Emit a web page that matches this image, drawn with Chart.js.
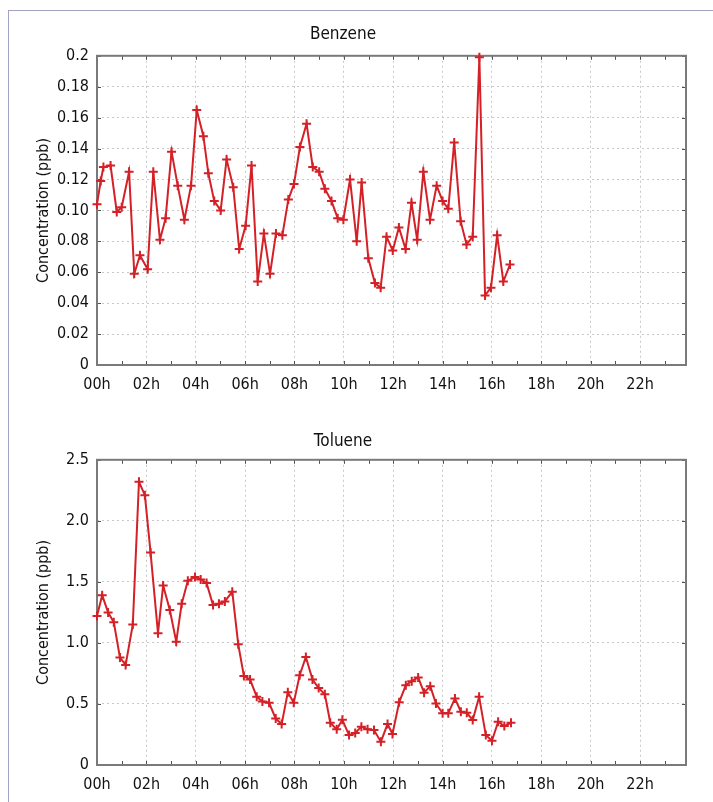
<!DOCTYPE html>
<html><head><meta charset="utf-8">
<script src="https://cdn.jsdelivr.net/npm/chart.js@4"></script>
<style>
html,body{margin:0;padding:0;background:#fff;}
#wrap{position:relative;width:713px;height:802px;overflow:hidden;background:#fff;}
#frame{position:absolute;left:8px;top:10px;width:720px;height:800px;border-left:1px solid #a2a2c4;border-top:1px solid #a2a2c4;}
.box{position:absolute;left:0;width:713px;}
</style></head><body>
<div id="wrap"><div id="frame"></div>
<div class="box" style="top:0;height:400px"><canvas id="c1" width="713" height="400"></canvas></div>
<div class="box" style="top:404px;height:398px"><canvas id="c2" width="713" height="398"></canvas></div>
</div>
<script>
const hourLabels = ['00h','02h','04h','06h','08h','10h','12h','14h','16h','18h','20h','22h'];

const benzeneTimes = [0.00,0.15,0.26,0.55,0.80,1.00,1.30,1.51,1.74,2.05,2.28,2.55,2.78,3.02,3.27,3.54,3.81,4.04,4.31,4.51,4.75,5.01,5.25,5.52,5.76,6.02,6.26,6.51,6.76,7.01,7.25,7.51,7.75,7.98,8.22,8.49,8.74,9.00,9.23,9.50,9.75,9.98,10.25,10.52,10.72,10.99,11.26,11.49,11.73,11.98,12.23,12.50,12.74,12.97,13.22,13.49,13.76,14.00,14.23,14.47,14.73,14.97,15.22,15.49,15.72,15.96,16.21,16.46,16.73];
const benzeneValues = [0.104,0.119,0.128,0.129,0.099,0.102,0.125,0.059,0.071,0.062,0.125,0.081,0.095,0.138,0.116,0.094,0.116,0.165,0.148,0.124,0.106,0.100,0.133,0.115,0.075,0.090,0.129,0.054,0.085,0.059,0.085,0.084,0.107,0.117,0.141,0.156,0.128,0.125,0.114,0.106,0.095,0.094,0.120,0.080,0.118,0.069,0.053,0.050,0.083,0.074,0.089,0.075,0.105,0.081,0.125,0.094,0.116,0.106,0.101,0.144,0.093,0.078,0.083,0.199,0.045,0.050,0.084,0.054,0.065];
const benzeneTickLabels = ['0','0.02','0.04','0.06','0.08','0.10','0.12','0.14','0.16','0.18','0.2'];

const tolueneTimes = [0.00,0.21,0.45,0.68,0.93,1.16,1.45,1.70,1.94,2.17,2.47,2.68,2.95,3.21,3.43,3.68,3.97,4.20,4.44,4.70,4.94,5.18,5.48,5.72,5.95,6.20,6.47,6.70,6.97,7.24,7.48,7.73,7.97,8.21,8.46,8.73,8.98,9.23,9.45,9.71,9.94,10.21,10.46,10.71,10.96,11.22,11.50,11.77,11.97,12.24,12.51,12.75,13.01,13.25,13.50,13.73,14.00,14.23,14.50,14.74,14.98,15.22,15.48,15.75,16.00,16.25,16.50,16.77];
const tolueneValues = [1.22,1.39,1.25,1.17,0.88,0.82,1.15,2.32,2.21,1.74,1.08,1.47,1.27,1.01,1.32,1.51,1.54,1.52,1.49,1.31,1.32,1.34,1.42,0.99,0.73,0.70,0.56,0.52,0.51,0.38,0.335,0.595,0.51,0.735,0.885,0.70,0.63,0.58,0.346,0.292,0.37,0.245,0.262,0.314,0.292,0.286,0.191,0.335,0.254,0.513,0.654,0.687,0.717,0.592,0.646,0.504,0.423,0.423,0.545,0.436,0.428,0.368,0.559,0.245,0.199,0.354,0.319,0.346];
const tolueneTickLabels = ['0','0.5','1.0','1.5','2.0','2.5'];

const FONT = "'Liberation Sans Narrow','DejaVu Sans Condensed','Arial Narrow',sans-serif";
const RED = '#d42027';
const TXT = '#111111';

const frameTicks = {
  id: 'frameTicks',
  beforeDatasetsDraw(chart) {
    const {ctx, chartArea: a, scales: {x, y}} = chart;
    ctx.save();
    ctx.strokeStyle = '#505050';
    ctx.lineWidth = 1;
    ctx.beginPath();
    for (let h = Math.ceil(x.min); h <= x.max; h++) {
      const px = Math.round(x.getPixelForValue(h)) + 0.5;
      ctx.moveTo(px, a.bottom); ctx.lineTo(px, a.bottom - 4);
      ctx.moveTo(px, a.top); ctx.lineTo(px, a.top + 4);
    }
    y.ticks.forEach(t => {
      const py = Math.round(y.getPixelForValue(t.value)) + 0.5;
      ctx.moveTo(a.left, py); ctx.lineTo(a.left + 4, py);
      ctx.moveTo(a.right, py); ctx.lineTo(a.right - 4, py);
    });
    ctx.stroke();
    ctx.strokeStyle = '#7a7a7a';
    ctx.lineWidth = 2;
    ctx.strokeRect(a.left, a.top, a.right - a.left, a.bottom - a.top);
    ctx.restore();
  }
};

function makeChart(id, title, times, values, yMax, yStep, yLabels, canvasH, areaBottom, titlePad) {
  const pts = times.map((t, i) => ({x: t, y: values[i]}));
  return new Chart(document.getElementById(id), {
    type: 'line',
    data: { datasets: [{
      data: pts,
      borderColor: RED,
      backgroundColor: RED,
      borderWidth: 2,
      pointStyle: 'cross',
      pointRadius: 4.5,
      pointBorderWidth: 2,
      pointBorderColor: RED,
      tension: 0,
      clip: false
    }]},
    options: {
      responsive: false,
      animation: false,
      layout: { padding: { left: 0, right: 27, top: 0, bottom: 0 } },
      plugins: {
        legend: { display: false },
        tooltip: { enabled: false },
        title: { display: true, text: title, color: TXT,
          font: { family: FONT, size: 17, weight: 'normal' },
          padding: titlePad }
      },
      scales: {
        x: {
          type: 'linear', min: 0, max: 23.86,
          ticks: { stepSize: 2, includeBounds: false, autoSkip: false, maxRotation: 0,
            padding: 10, color: TXT, font: { family: FONT, size: 16 },
            callback: v => hourLabels[Math.round(v / 2)] },
          grid: { color: '#c8c8c8', drawTicks: false, lineWidth: 1 },
          border: { display: false, dash: [2, 3] },
          afterFit(s) { s.height = canvasH - areaBottom; }
        },
        y: {
          min: 0, max: yMax,
          ticks: { stepSize: yStep, padding: 8, color: TXT, font: { family: FONT, size: 16 },
            callback: v => yLabels[Math.round(v / yStep)] },
          grid: { color: '#c8c8c8', drawTicks: false, lineWidth: 1 },
          border: { display: false, dash: [2, 3] },
          title: { display: true, text: 'Concentration (ppb)', color: TXT,
            font: { family: FONT, size: 16 }, padding: { top: 34, bottom: 0 } },
          afterFit(s) { s.width = 97; }
        }
      }
    },
    plugins: [frameTicks]
  });
}

makeChart('c1', 'Benzene', benzeneTimes, benzeneValues, 0.2, 0.02, benzeneTickLabels, 400, 365, {top: 24.5, bottom: 10.9});
makeChart('c2', 'Toluene', tolueneTimes, tolueneValues, 2.5, 0.5, tolueneTickLabels, 398, 361, {top: 27.5, bottom: 7.9});
</script>
</body></html>
